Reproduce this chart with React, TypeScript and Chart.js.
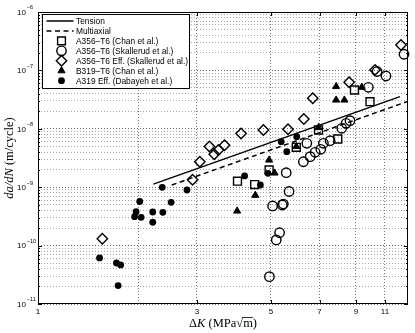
import React, { useEffect, useRef } from 'react';
import { Chart, registerables } from 'chart.js';
Chart.register(...registerables);

// ---- axis ticks ----
const xTickValues = [1, 2, 3, 5, 7, 9, 11];
const xTickLabels = ['1', '', '3', '5', '7', '9', '11'];
const yExponents = [-11, -10, -9, -8, -7, -6];

// ---- series: A356-T6 (Chan et al.) squares ----
const chanA356X = [3.97, 4.47, 4.94, 5.96, 6.95, 7.94, 8.91, 9.92];
const chanA356Y = [1.27e-9, 1.11e-9, 1.97e-9, 4.82e-9, 9.53e-9, 6.69e-9, 4.62e-8, 2.91e-8];

// ---- A356-T6 (Skallerud et al.) open circles ----
const skallX = [4.95, 5.19, 5.31, 5.06, 5.41, 5.45, 5.67, 5.56, 6.26, 6.56, 6.79, 7.06, 7.19, 6.41, 7.53, 8.16, 8.41, 8.64, 9.81, 11.08, 12.55, 10.42];
const skallY = [2.94e-11, 1.25e-10, 1.66e-10, 4.77e-10, 4.96e-10, 5.15e-10, 8.44e-10, 1.77e-9, 2.73e-9, 3.33e-9, 3.96e-9, 4.46e-9, 5.65e-9, 5.65e-9, 6.25e-9, 1.02e-8, 1.24e-8, 1.38e-8, 5.14e-8, 8.02e-8, 1.89e-7, 9.58e-8];

// ---- A356-T6 Eff. (Skallerud et al.) diamonds ----
const skallEffX = [1.56, 2.91, 3.06, 3.27, 3.38, 3.48, 3.63, 4.07, 4.75, 5.63, 6.28, 6.68, 8.59, 10.27, 12.29];
const skallEffY = [1.31e-10, 1.34e-9, 2.73e-9, 4.98e-9, 3.66e-9, 4.34e-9, 5.22e-9, 8.31e-9, 9.53e-9, 9.8e-9, 1.47e-8, 3.33e-8, 6.26e-8, 1.02e-7, 2.72e-7];

// ---- B319-T6 (Chan et al.) filled triangles ----
const chanB319X = [3.96, 4.49, 4.94, 5.13, 5.96, 6.95, 7.85, 7.85, 8.31, 9.37];
const chanB319Y = [3.91e-10, 7.27e-10, 2.92e-9, 1.75e-9, 4.98e-9, 1.05e-8, 5.3e-8, 3.11e-8, 3.11e-8, 5.14e-8];

// ---- A319 Eff. (Dabayeh et al.) filled circles ----
const dabayehX = [1.53, 1.72, 1.77, 1.74, 1.95, 2.04, 1.97, 2.02, 2.21, 2.21, 2.37, 2.51, 2.36, 2.8, 4.17, 4.65, 4.9, 5.37, 5.58, 5.98];
const dabayehY = [6.14e-11, 5.04e-11, 4.66e-11, 2.07e-11, 3.13e-10, 3.05e-10, 3.81e-10, 5.69e-10, 3.76e-10, 2.51e-10, 3.72e-10, 5.51e-10, 9.96e-10, 8.96e-10, 1.56e-9, 1.09e-9, 1.73e-9, 6.01e-9, 4.06e-9, 7.32e-9];

// ---- fitted lines ----
const tensionX = [2.22, 12.2];
const tensionY = [1.13e-9, 3.55e-8];
const multiaxialX = [2.52, 12.8];
const multiaxialY = [1.09e-9, 2.91e-8];

const legendLabels = [
  'Tension',
  'Multiaxial',
  'A356\u2013T6 (Chan et al.)',
  'A356\u2013T6 (Skallerud et al.)',
  'A356\u2013T6 Eff. (Skallerud et al.)',
  'B319\u2013T6 (Chan et al.)',
  'A319 Eff. (Dabayeh et al.)',
];

const W = 415;
const H = 333;
const SANS = '"Liberation Sans", Arial, sans-serif';
const SERIF = '"Liberation Serif", "Times New Roman", serif';

function pts(xs: number[], ys: number[]) {
  return xs.map((x, i) => ({ x, y: ys[i] }));
}

function drawMarker(ctx: CanvasRenderingContext2D, kind: string, x: number, y: number) {
  ctx.save();
  ctx.strokeStyle = '#000';
  ctx.fillStyle = '#000';
  ctx.lineWidth = 1.4;
  ctx.beginPath();
  if (kind === 'square') {
    ctx.rect(x - 3.9, y - 3.9, 7.8, 7.8);
    ctx.stroke();
  } else if (kind === 'circle') {
    ctx.arc(x, y, 4.7, 0, Math.PI * 2);
    ctx.stroke();
  } else if (kind === 'diamond') {
    ctx.moveTo(x, y - 5.2);
    ctx.lineTo(x + 5.2, y);
    ctx.lineTo(x, y + 5.2);
    ctx.lineTo(x - 5.2, y);
    ctx.closePath();
    ctx.stroke();
  } else if (kind === 'triangle') {
    const r = 4.1;
    ctx.moveTo(x, y - r);
    ctx.lineTo(x + r * 0.866, y + r * 0.5);
    ctx.lineTo(x - r * 0.866, y + r * 0.5);
    ctx.closePath();
    ctx.fill();
    ctx.lineWidth = 1;
    ctx.stroke();
  } else if (kind === 'dot') {
    ctx.arc(x, y, 3.4, 0, Math.PI * 2);
    ctx.fill();
  }
  ctx.restore();
}

const overlayPlugin = {
  id: 'overlay',
  afterDraw(chart: any) {
    const { ctx, chartArea: a, scales } = chart;
    const xs = scales.x;
    const ys = scales.y;
    ctx.save();

    // frame
    ctx.strokeStyle = '#000';
    ctx.lineWidth = 1;
    ctx.setLineDash([]);
    ctx.strokeRect(a.left + 0.5, a.top + 0.5, a.right - a.left - 1, a.bottom - a.top - 1);

    // tick marks
    ctx.beginPath();
    xTickValues.forEach((v, i) => {
      if (!xTickLabels[i]) return;
      const px = Math.round(xs.getPixelForValue(v)) + 0.5;
      ctx.moveTo(px, a.bottom);
      ctx.lineTo(px, a.bottom - 4);
      ctx.moveTo(px, a.top);
      ctx.lineTo(px, a.top + 4);
    });
    yExponents.forEach((e) => {
      for (let k = 1; k <= 9; k++) {
        const v = k * Math.pow(10, e);
        if (v > 1.0001e-6) break;
        const py = Math.round(ys.getPixelForValue(v)) + 0.5;
        const len = k === 1 ? 4 : 2;
        ctx.moveTo(a.left, py);
        ctx.lineTo(a.left + len, py);
        ctx.moveTo(a.right, py);
        ctx.lineTo(a.right - len, py);
      }
    });
    ctx.stroke();

    // x tick labels
    ctx.fillStyle = '#000';
    ctx.font = `8px ${SANS}`;
    ctx.textAlign = 'center';
    ctx.textBaseline = 'top';
    xTickValues.forEach((v, i) => {
      if (!xTickLabels[i]) return;
      ctx.fillText(xTickLabels[i], xs.getPixelForValue(v), a.bottom + 4);
    });

    // y tick labels (10^e)
    yExponents.forEach((e) => {
      const py = ys.getPixelForValue(Math.pow(10, e));
      ctx.font = `8px ${SANS}`;
      ctx.textAlign = 'right';
      ctx.textBaseline = 'middle';
      ctx.fillText('10', 26, py + 0.5);
      ctx.font = `5.5px ${SANS}`;
      ctx.textAlign = 'left';
      ctx.fillText('\u2212' + Math.abs(e), 26.8, py - 4.2);
    });

    // x title: ΔK (MPa√m)
    const fs = 12.5;
    const up = `${fs}px ${SERIF}`;
    const it = `italic ${fs}px ${SERIF}`;
    const parts: [string, string][] = [['\u0394', up], ['K', it], [' (MPa', up], ['\u221A', up], ['m', up], [')', up]];
    let total = 0;
    const widths = parts.map(([t, f]) => {
      ctx.font = f;
      const w = ctx.measureText(t).width;
      total += w;
      return w;
    });
    const cx = (a.left + a.right) / 2;
    let x = cx - total / 2;
    const base = 327;
    ctx.textAlign = 'left';
    ctx.textBaseline = 'alphabetic';
    let sqrtTop = 0;
    let ovStart = 0;
    let ovEnd = 0;
    parts.forEach(([t, f], i) => {
      ctx.font = f;
      ctx.fillText(t, x, base);
      if (t === '\u221A') {
        const m = ctx.measureText(t);
        sqrtTop = base - m.actualBoundingBoxAscent + 0.5;
        ovStart = x + widths[i] - 0.8;
      }
      if (t === 'm') ovEnd = x + widths[i];
      x += widths[i];
    });
    ctx.beginPath();
    ctx.lineWidth = 0.8;
    ctx.moveTo(ovStart, sqrtTop);
    ctx.lineTo(ovEnd, sqrtTop);
    ctx.stroke();

    // y title: da/dN (m/cycle)
    ctx.save();
    ctx.translate(12.5, (a.top + a.bottom) / 2);
    ctx.rotate(-Math.PI / 2);
    const yparts: [string, string][] = [['da/dN', it], [' (m/cycle)', up]];
    let ytot = 0;
    const yw = yparts.map(([t, f]) => {
      ctx.font = f;
      const w = ctx.measureText(t).width;
      ytot += w;
      return w;
    });
    let yx = -ytot / 2;
    yparts.forEach(([t, f], i) => {
      ctx.font = f;
      ctx.fillText(t, yx, 0);
      yx += yw[i];
    });
    ctx.restore();

    // legend box
    ctx.fillStyle = '#fff';
    ctx.fillRect(42.5, 14.5, 147, 74);
    ctx.strokeStyle = '#000';
    ctx.lineWidth = 1;
    ctx.strokeRect(42.5, 14.5, 147, 74);
    const kinds = ['solid', 'dashed', 'square', 'circle', 'diamond', 'triangle', 'dot'];
    ctx.font = `8.4px ${SANS}`;
    ctx.textAlign = 'left';
    ctx.textBaseline = 'middle';
    legendLabels.forEach((lab, i) => {
      const ly = 21 + i * 9.95;
      const k = kinds[i];
      if (k === 'solid' || k === 'dashed') {
        ctx.save();
        ctx.beginPath();
        ctx.lineWidth = 1.5;
        ctx.strokeStyle = '#000';
        ctx.setLineDash(k === 'dashed' ? [5, 3.5] : []);
        ctx.moveTo(46.5, ly);
        ctx.lineTo(73.5, ly);
        ctx.stroke();
        ctx.restore();
      } else {
        drawMarker(ctx, k, 61.5, ly);
      }
      ctx.fillStyle = '#000';
      ctx.fillText(lab, 76, ly + 0.5);
    });

    ctx.restore();
  },
};

export default function App() {
  const ref = useRef<HTMLCanvasElement | null>(null);

  useEffect(() => {
    if (!ref.current) return;
    const open = 'rgba(0,0,0,0)';
    const chart = new Chart(ref.current, {
      type: 'scatter',
      data: {
        datasets: [
          {
            label: legendLabels[2],
            data: pts(chanA356X, chanA356Y),
            pointStyle: 'rect',
            pointRadius: 5.6,
            borderColor: '#000',
            backgroundColor: open,
            borderWidth: 1.4,
            clip: false,
            order: 1,
          },
          {
            label: legendLabels[3],
            data: pts(skallX, skallY),
            pointStyle: 'circle',
            pointRadius: 4.7,
            borderColor: '#000',
            backgroundColor: open,
            borderWidth: 1.4,
            clip: false,
            order: 1,
          },
          {
            label: legendLabels[4],
            data: pts(skallEffX, skallEffY),
            pointStyle: 'rectRot',
            pointRadius: 5.2,
            borderColor: '#000',
            backgroundColor: open,
            borderWidth: 1.4,
            clip: false,
            order: 1,
          },
          {
            label: legendLabels[5],
            data: pts(chanB319X, chanB319Y),
            pointStyle: 'triangle',
            pointRadius: 4.1,
            borderColor: '#000',
            backgroundColor: '#000',
            borderWidth: 1,
            clip: false,
            order: 1,
          },
          {
            label: legendLabels[6],
            data: pts(dabayehX, dabayehY),
            pointStyle: 'circle',
            pointRadius: 3.4,
            borderColor: '#000',
            backgroundColor: '#000',
            borderWidth: 0,
            clip: false,
            order: 1,
          },
          {
            label: legendLabels[0],
            data: pts(tensionX, tensionY),
            showLine: true,
            pointRadius: 0,
            borderColor: '#000',
            borderWidth: 1.5,
            order: 2,
          },
          {
            label: legendLabels[1],
            data: pts(multiaxialX, multiaxialY),
            showLine: true,
            pointRadius: 0,
            borderColor: '#000',
            borderWidth: 1.5,
            borderDash: [5, 3.5],
            order: 2,
          },
        ],
      },
      options: {
        animation: false,
        responsive: false,
        events: [],
        layout: { padding: { left: 38, top: 12, right: 7, bottom: 29 } },
        plugins: { legend: { display: false }, tooltip: { enabled: false } },
        scales: {
          x: {
            type: 'logarithmic',
            min: 1,
            max: 12.9,
            afterBuildTicks: (s: any) => {
              s.ticks = xTickValues.map((v) => ({ value: v }));
            },
            afterFit: (s: any) => {
              s.height = 0;
            },
            ticks: { display: false, autoSkip: false },
            border: { display: false, dash: [1, 2] },
            grid: {
              drawTicks: false,
              color: 'rgba(0,0,0,0.55)',
              lineWidth: 1,
            },
          },
          y: {
            type: 'logarithmic',
            min: 1e-11,
            max: 1e-6,
            afterBuildTicks: (s: any) => {
              const t: { value: number }[] = [];
              yExponents.forEach((e) => {
                for (let k = 1; k <= 9; k++) {
                  const v = k * Math.pow(10, e);
                  if (v > 1.0001e-6) break;
                  t.push({ value: v });
                }
              });
              s.ticks = t;
            },
            afterFit: (s: any) => {
              s.width = 0;
            },
            ticks: { display: false, autoSkip: false },
            border: { display: false, dash: [1, 2] },
            grid: {
              drawTicks: false,
              color: (c: any) => {
                const v = c.tick ? c.tick.value : 0;
                const m = Math.log10(v);
                return Math.abs(m - Math.round(m)) < 1e-6 ? 'rgba(0,0,0,0.55)' : 'rgba(0,0,0,0.35)';
              },
              lineWidth: 1,
            },
          },
        },
      },
      plugins: [overlayPlugin],
    } as any);
    return () => chart.destroy();
  }, []);

  return (
    <div style={{ position: 'absolute', left: 0, top: 0, width: W, height: H, background: '#fff' }}>
      <canvas ref={ref} width={W} height={H} style={{ display: 'block', width: W, height: H }} />
    </div>
  );
}
